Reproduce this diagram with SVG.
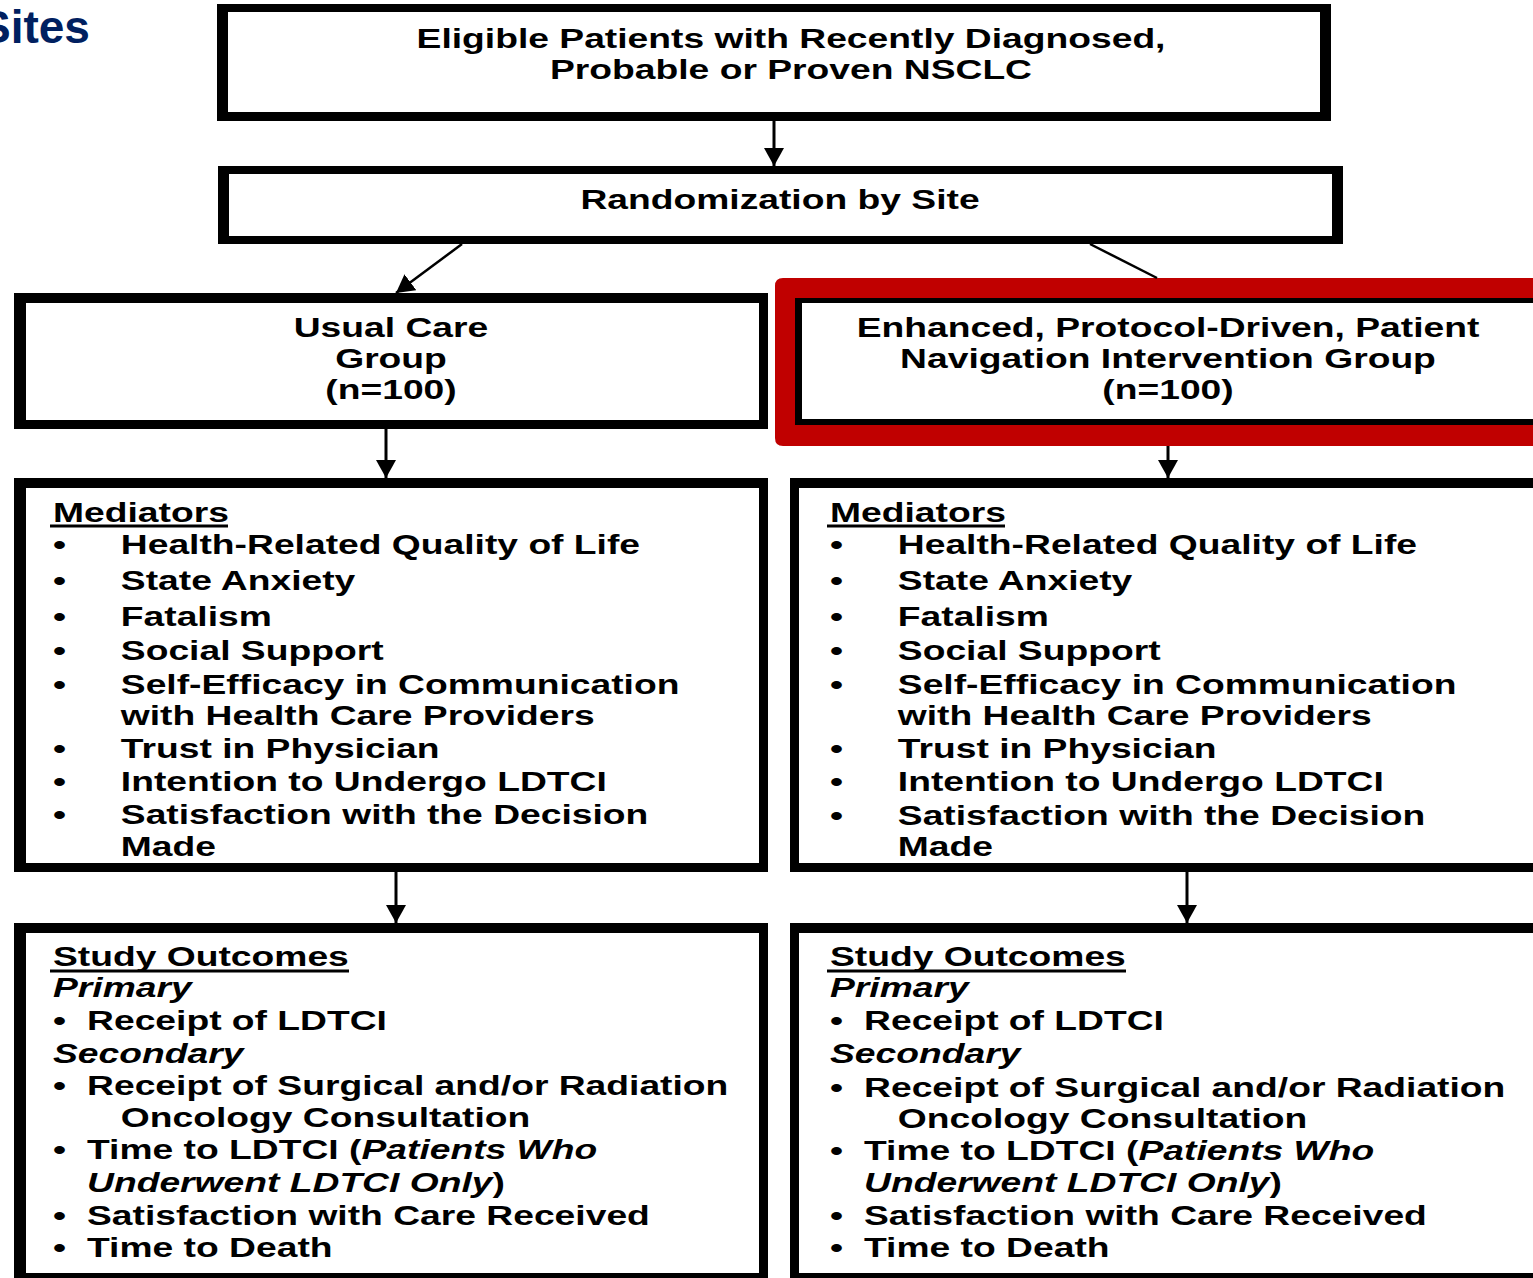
<svg xmlns="http://www.w3.org/2000/svg" width="1533" height="1278" viewBox="0 0 1533 1278">
<style>
.frame{fill:#000}
.inner{fill:#fff}
.red{fill:#c00000;fill-rule:evenodd}
.t{font-family:"Liberation Sans",Arial,sans-serif;font-weight:bold;font-size:28px;fill:#000}
.c{text-anchor:middle}
.i{font-style:italic}
.ul{stroke:#000;stroke-width:3}
.conn line{stroke:#000;stroke-width:3;marker-end:url(#ah)}
.title{font-family:"Liberation Sans",Arial,sans-serif;font-weight:bold;font-size:46px;fill:#002060}
</style>
<defs>
<marker id="ah" viewBox="0 0 18 20" refX="18" refY="10" markerWidth="18" markerHeight="20" markerUnits="userSpaceOnUse" orient="auto" preserveAspectRatio="none">
<path d="M0,0 L18,10 L0,20 z" fill="#000"/>
</marker>
</defs>
<rect width="1533" height="1278" fill="#fff"/>
<text class="title" x="-20" y="43">Sites</text>

<g id="eligible">
<rect class="frame" x="217" y="4" width="1114" height="117"/>
<rect class="inner" x="228" y="12" width="1092" height="100"/>
<g transform="translate(791,0) scale(1.33,1)">
<text class="t c" x="0" y="48">Eligible Patients with Recently Diagnosed,</text>
<text class="t c" x="0" y="79">Probable or Proven NSCLC</text>
</g>
</g>

<g id="randomization">
<rect class="frame" x="218" y="166" width="1125" height="78"/>
<rect class="inner" x="229" y="174" width="1103" height="62"/>
<g transform="translate(780,0) scale(1.33,1)">
<text class="t c" x="0" y="209">Randomization by Site</text>
</g>
</g>

<g id="usual-care">
<rect class="frame" x="14" y="293" width="754" height="136"/>
<rect class="inner" x="26" y="303" width="733" height="117"/>
<g transform="translate(391,0) scale(1.33,1)">
<text class="t c" x="0" y="337">Usual Care</text>
<text class="t c" x="0" y="368">Group</text>
<text class="t c" x="0" y="399">(n=100)</text>
</g>
</g>

<g id="enhanced">
<rect class="frame" x="790" y="293" width="770" height="136"/>
<rect class="inner" x="802" y="303" width="760" height="116"/>
<path class="red" d="M783,278 H1570 V446 H783 Q775,446 775,438 V286 Q775,278 783,278 Z M795,298 V425 H1570 V298 Z"/>
<g transform="translate(1168,0) scale(1.33,1)">
<text class="t c" x="0" y="337">Enhanced, Protocol-Driven, Patient</text>
<text class="t c" x="0" y="368">Navigation Intervention Group</text>
<text class="t c" x="0" y="399">(n=100)</text>
</g>
</g>

<g id="mediators-left">
<rect class="frame" x="14" y="478" width="754" height="394"/>
<rect class="inner" x="26" y="488" width="733" height="375"/>
<line class="ul" x1="50" y1="526" x2="228" y2="526"/>
<g transform="translate(53,0) scale(1.33,1)">
<text class="t" x="0" y="522">Mediators</text>
<text class="t" x="0" y="554">•</text><text class="t" x="51" y="554">Health-Related Quality of Life</text>
<text class="t" x="0" y="590">•</text><text class="t" x="51" y="590">State Anxiety</text>
<text class="t" x="0" y="626">•</text><text class="t" x="51" y="626">Fatalism</text>
<text class="t" x="0" y="660">•</text><text class="t" x="51" y="660">Social Support</text>
<text class="t" x="0" y="694">•</text><text class="t" x="51" y="694">Self-Efficacy in Communication</text>
<text class="t" x="51" y="725">with Health Care Providers</text>
<text class="t" x="0" y="758">•</text><text class="t" x="51" y="758">Trust in Physician</text>
<text class="t" x="0" y="791">•</text><text class="t" x="51" y="791">Intention to Undergo LDTCI</text>
<text class="t" x="0" y="824">•</text><text class="t" x="51" y="824">Satisfaction with the Decision</text>
<text class="t" x="51" y="856">Made</text>
</g>
</g>

<g id="mediators-right">
<rect class="frame" x="790" y="478" width="770" height="394"/>
<rect class="inner" x="799" y="488" width="770" height="375"/>
<line class="ul" x1="827" y1="526" x2="1005" y2="526"/>
<g transform="translate(830,0) scale(1.33,1)">
<text class="t" x="0" y="522">Mediators</text>
<text class="t" x="0" y="554">•</text><text class="t" x="51" y="554">Health-Related Quality of Life</text>
<text class="t" x="0" y="590">•</text><text class="t" x="51" y="590">State Anxiety</text>
<text class="t" x="0" y="626">•</text><text class="t" x="51" y="626">Fatalism</text>
<text class="t" x="0" y="660">•</text><text class="t" x="51" y="660">Social Support</text>
<text class="t" x="0" y="694">•</text><text class="t" x="51" y="694">Self-Efficacy in Communication</text>
<text class="t" x="51" y="725">with Health Care Providers</text>
<text class="t" x="0" y="758">•</text><text class="t" x="51" y="758">Trust in Physician</text>
<text class="t" x="0" y="791">•</text><text class="t" x="51" y="791">Intention to Undergo LDTCI</text>
<text class="t" x="0" y="825">•</text><text class="t" x="51" y="825">Satisfaction with the Decision</text>
<text class="t" x="51" y="856">Made</text>
</g>
</g>

<g id="outcomes-left">
<rect class="frame" x="14" y="923" width="754" height="370"/>
<rect class="inner" x="26" y="933" width="733" height="340"/>
<line class="ul" x1="50" y1="971" x2="349" y2="971"/>
<g transform="translate(53,0) scale(1.33,1)">
<text class="t" x="0" y="966">Study Outcomes</text>
<text class="t i" x="0" y="997">Primary</text>
<text class="t" x="0" y="1030">•</text><text class="t" x="25.6" y="1030">Receipt of LDTCI</text>
<text class="t i" x="0" y="1063">Secondary</text>
<text class="t" x="0" y="1095">•</text><text class="t" x="25.6" y="1095">Receipt of Surgical and/or Radiation</text>
<text class="t" x="51" y="1127">Oncology Consultation</text>
<text class="t" x="0" y="1159">•</text><text class="t" x="25.6" y="1159">Time to LDTCI (<tspan class="i">Patients Who</tspan></text>
<text class="t" x="25.6" y="1192"><tspan class="i">Underwent LDTCI Only</tspan>)</text>
<text class="t" x="0" y="1225">•</text><text class="t" x="25.6" y="1225">Satisfaction with Care Received</text>
<text class="t" x="0" y="1257">•</text><text class="t" x="25.6" y="1257">Time to Death</text>
</g>
</g>

<g id="outcomes-right">
<rect class="frame" x="790" y="923" width="770" height="370"/>
<rect class="inner" x="799" y="933" width="770" height="340"/>
<line class="ul" x1="827" y1="971" x2="1126" y2="971"/>
<g transform="translate(830,0) scale(1.33,1)">
<text class="t" x="0" y="966">Study Outcomes</text>
<text class="t i" x="0" y="997">Primary</text>
<text class="t" x="0" y="1030">•</text><text class="t" x="25.6" y="1030">Receipt of LDTCI</text>
<text class="t i" x="0" y="1063">Secondary</text>
<text class="t" x="0" y="1097">•</text><text class="t" x="25.6" y="1097">Receipt of Surgical and/or Radiation</text>
<text class="t" x="51" y="1128">Oncology Consultation</text>
<text class="t" x="0" y="1160">•</text><text class="t" x="25.6" y="1160">Time to LDTCI (<tspan class="i">Patients Who</tspan></text>
<text class="t" x="25.6" y="1192"><tspan class="i">Underwent LDTCI Only</tspan>)</text>
<text class="t" x="0" y="1225">•</text><text class="t" x="25.6" y="1225">Satisfaction with Care Received</text>
<text class="t" x="0" y="1257">•</text><text class="t" x="25.6" y="1257">Time to Death</text>
</g>
</g>

<g id="connectors" class="conn">
<line x1="774" y1="121" x2="774" y2="166"/>
<line x1="462" y1="244" x2="396" y2="293" style="stroke-width:2.5"/>
<line x1="1090" y1="244" x2="1157" y2="278" style="stroke-width:2.5;marker-end:none"/>
<line x1="386" y1="429" x2="386" y2="478"/>
<line x1="1168" y1="446" x2="1168" y2="478"/>
<line x1="396" y1="872" x2="396" y2="923"/>
<line x1="1187" y1="872" x2="1187" y2="923"/>
</g>
</svg>
